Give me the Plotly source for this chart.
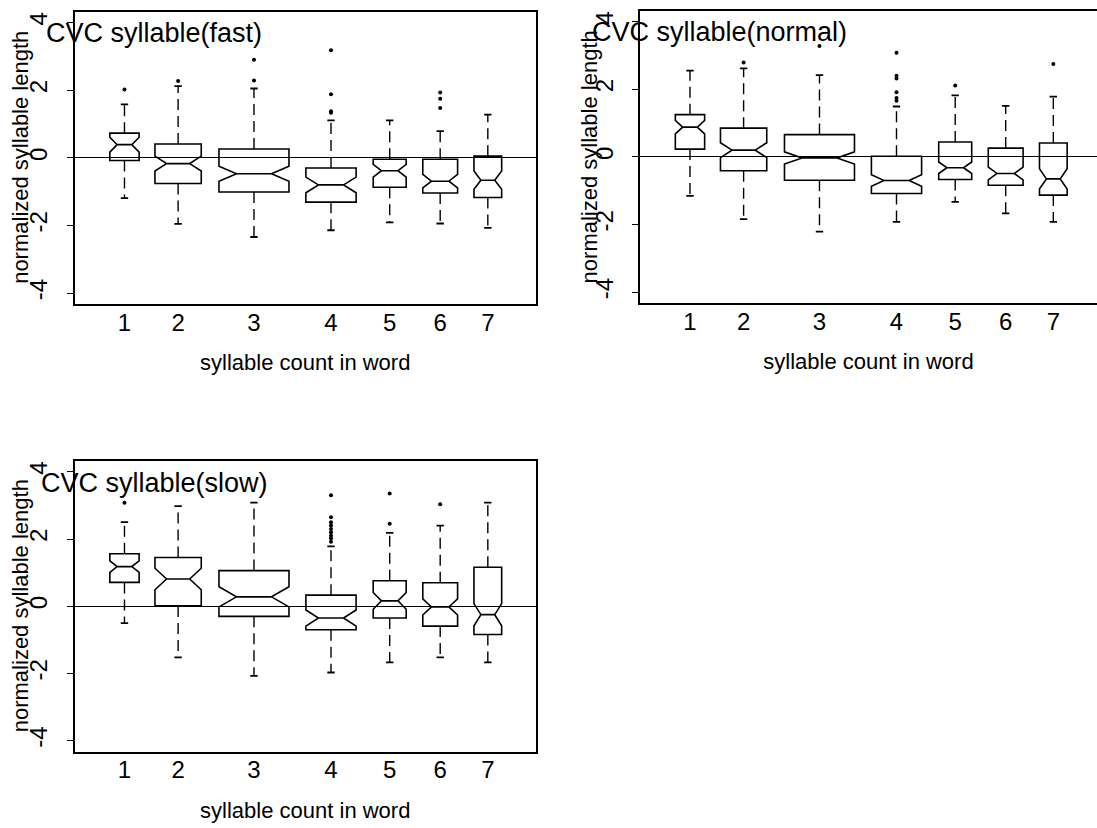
import plotly.graph_objects as go

# ---------------- data ----------------
categories = ["1", "2", "3", "4", "5", "6", "7"]
positions = [1.083, 2.245, 3.889, 5.558, 6.830, 7.924, 8.956]
box_widths = [0.635, 1.003, 1.517, 1.088, 0.715, 0.754, 0.600]

fast_q1 = [-0.08, -0.76, -1.01, -1.31, -0.87, -1.04, -1.17]
fast_median = [0.39, -0.17, -0.47, -0.80, -0.38, -0.69, -0.66]
fast_q3 = [0.73, 0.41, 0.26, -0.30, -0.04, -0.04, 0.05]
fast_low = [-1.19, -1.95, -2.34, -2.14, -1.91, -1.94, -2.07]
fast_high = [1.58, 2.12, 2.05, 1.11, 1.11, 0.79, 1.28]
fast_notch = [0.22, 0.22, 0.22, 0.23, 0.19, 0.20, 0.27]
fast_outliers = [[2.02], [2.27], [2.29, 2.90], [1.33, 1.38, 1.88, 3.18], [], [1.47, 1.75, 1.93], []]

normal_q1 = [0.23, -0.41, -0.69, -1.08, -0.67, -0.84, -1.13]
normal_median = [0.88, 0.20, -0.03, -0.70, -0.32, -0.49, -0.65]
normal_q3 = [1.25, 0.85, 0.66, 0.02, 0.44, 0.26, 0.41]
normal_low = [-1.15, -1.84, -2.21, -1.92, -1.33, -1.67, -1.92]
normal_high = [2.55, 2.62, 2.42, 1.49, 1.82, 1.51, 1.78]
normal_notch = [0.20, 0.22, 0.18, 0.17, 0.17, 0.19, 0.30]
normal_outliers = [[], [2.79], [3.28], [1.66, 1.74, 1.91, 2.32, 2.40, 3.08], [2.11], [], [2.75]]

slow_q1 = [0.71, 0.01, -0.30, -0.70, -0.35, -0.59, -0.84]
slow_median = [1.18, 0.81, 0.28, -0.35, 0.16, -0.02, -0.25]
slow_q3 = [1.56, 1.45, 1.06, 0.33, 0.76, 0.70, 1.16]
slow_low = [-0.50, -1.52, -2.07, -1.97, -1.67, -1.52, -1.67]
slow_high = [2.50, 2.98, 3.08, 1.78, 2.18, 2.40, 3.08]
slow_notch = [0.17, 0.32, 0.30, 0.24, 0.25, 0.24, 0.33]
slow_outliers = [[3.08], [], [], [1.92, 2.02, 2.10, 2.20, 2.30, 2.40, 2.50, 2.65, 3.30], [2.45, 3.35], [3.03], []]

panel_titles = ["CVC syllable(fast)", "CVC syllable(normal)", "CVC syllable(slow)"]
y_ticks = [-4, -2, 0, 2, 4]
x_title = "syllable count in word"
y_title = "normalized syllable length"

# ---------------- styling ----------------
W, H = 1097, 828
FONT = "Liberation Sans, Arial, Helvetica, sans-serif"
INK = "black"
STAPLE_HALF = 0.08
UNIT_PX = 46.15  # pixels per x unit

panels = [
    dict(q1=fast_q1, med=fast_median, q3=fast_q3, lo=fast_low, hi=fast_high,
         notch=fast_notch, out=fast_outliers, title=panel_titles[0], ax="1",
         xpx=(74.5, 536.0), ypx=(11.7, 304.0), ylab_px=21.0),
    dict(q1=normal_q1, med=normal_median, q3=normal_q3, lo=normal_low, hi=normal_high,
         notch=normal_notch, out=normal_outliers, title=panel_titles[1], ax="2",
         xpx=(640.0, 1097.0), ypx=(10.8, 303.0), ylab_px=589.5),
    dict(q1=slow_q1, med=slow_median, q3=slow_q3, lo=slow_low, hi=slow_high,
         notch=slow_notch, out=slow_outliers, title=panel_titles[2], ax="3",
         xpx=(74.5, 536.0), ypx=(461.0, 751.5), ylab_px=20.0),
]

fig = go.Figure()
annotations = []
layout_axes = {}

for p in panels:
    suf = "" if p["ax"] == "1" else p["ax"]
    xref, yref = "x" + suf, "y" + suf
    # notched boxes
    for i, cat in enumerate(categories):
        fig.add_trace(go.Box(
            x=[positions[i]], q1=[p["q1"][i]], median=[p["med"][i]], q3=[p["q3"][i]],
            lowerfence=[p["q1"][i]], upperfence=[p["q3"][i]], notchspan=[p["notch"][i]],
            notched=True, notchwidth=0.25, width=box_widths[i], whiskerwidth=0,
            fillcolor="rgba(255,255,255,0)", line=dict(color=INK, width=1.6),
            boxpoints=False, name=cat, showlegend=False, hoverinfo="skip",
            xaxis=xref, yaxis=yref))
    # dashed whiskers
    wx, wy, sx, sy = [], [], [], []
    for i in range(len(categories)):
        x = positions[i]
        wx += [x, x, None, x, x, None]
        wy += [p["q3"][i], p["hi"][i], None, p["q1"][i], p["lo"][i], None]
        sx += [x - STAPLE_HALF, x + STAPLE_HALF, None, x - STAPLE_HALF, x + STAPLE_HALF, None]
        sy += [p["hi"][i], p["hi"][i], None, p["lo"][i], p["lo"][i], None]
    fig.add_trace(go.Scatter(x=wx, y=wy, mode="lines", showlegend=False, hoverinfo="skip",
                             line=dict(color=INK, width=1.4, dash="11px,6px"),
                             xaxis=xref, yaxis=yref))
    fig.add_trace(go.Scatter(x=sx, y=sy, mode="lines", showlegend=False, hoverinfo="skip",
                             line=dict(color=INK, width=1.8), xaxis=xref, yaxis=yref))
    # outliers
    ox, oy = [], []
    for i, vals in enumerate(p["out"]):
        for v in vals:
            ox.append(positions[i])
            oy.append(v)
    fig.add_trace(go.Scatter(x=ox, y=oy, mode="markers", showlegend=False, hoverinfo="skip",
                             marker=dict(color=INK, size=4), xaxis=xref, yaxis=yref))

    x0, x1 = p["xpx"]
    y0, y1 = p["ypx"]
    xr = (x1 - x0) / UNIT_PX
    layout_axes["xaxis" + suf] = dict(
        domain=[x0 / W, x1 / W], range=[0, xr], anchor=yref,
        showline=True, mirror=True, linecolor=INK, linewidth=1.8,
        ticks="", tickvals=positions, ticktext=categories,
        tickfont=dict(size=24, color=INK, family=FONT), ticklabelstandoff=-4,
        showgrid=False, zeroline=False, automargin=False,
        title=dict(text=x_title, font=dict(size=22, color=INK, family=FONT), standoff=20))
    layout_axes["yaxis" + suf] = dict(
        domain=[1 - y1 / H, 1 - y0 / H], range=[-4.32, 4.32], anchor=xref,
        showline=True, mirror=(p["ax"] != "2"), linecolor=INK, linewidth=1.8,
        ticks="outside", ticklen=6, tickwidth=1.3, tickcolor=INK,
        tickvals=y_ticks, ticktext=[str(t) for t in y_ticks], tickangle=-90,
        tickfont=dict(size=24, color=INK, family=FONT), ticklabelstandoff=10,
        showgrid=False, zeroline=True, zerolinecolor=INK, zerolinewidth=1.3,
        automargin=False)
    # panel title (placed inside the frame, as in the source figure)
    annotations.append(dict(text=p["title"], xref=xref, yref=yref, x=1.73, y=3.68,
                            xanchor="center", yanchor="middle", showarrow=False,
                            font=dict(size=27, color=INK, family=FONT)))
    # y-axis title
    annotations.append(dict(text=y_title, xref="paper", yref="paper",
                            x=p["ylab_px"] / W, y=1 - (y0 + y1) / 2 / H,
                            xanchor="center", yanchor="middle", textangle=-90,
                            showarrow=False, font=dict(size=22, color=INK, family=FONT)))

fig.update_layout(
    width=W, height=H, autosize=False,
    margin=dict(l=0, r=0, t=0, b=0),
    paper_bgcolor="white", plot_bgcolor="white",
    font=dict(family=FONT, color=INK),
    boxmode="overlay", annotations=annotations,
    **layout_axes)

fig.write_html("out.html")
